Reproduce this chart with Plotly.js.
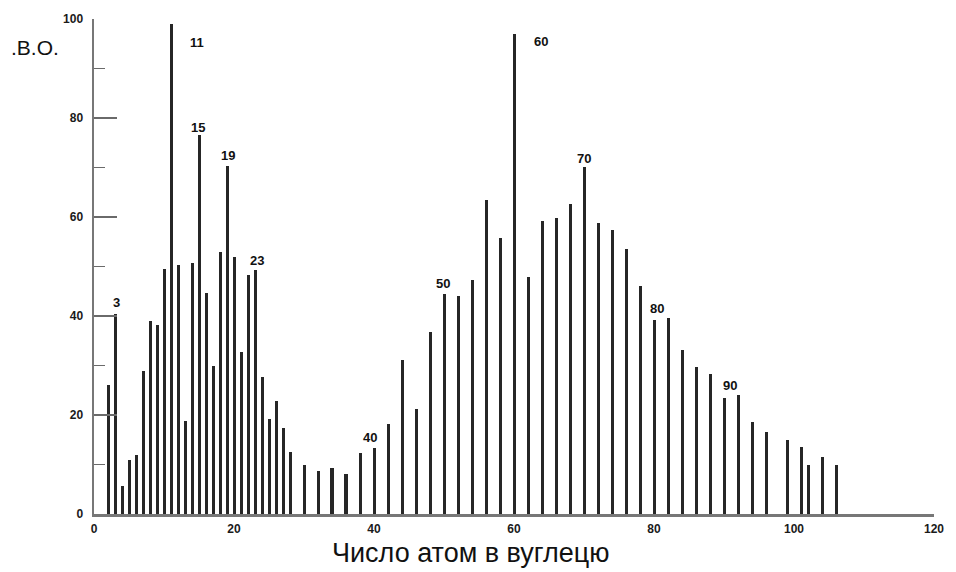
<!DOCTYPE html>
<html>
<head>
<meta charset="utf-8">
<script src="https://cdn.plot.ly/plotly-3.0.1.min.js"></script>
<style>
  html, body { margin: 0; padding: 0; background: #fff; }
  #chart { width: 956px; height: 572px; }
</style>
</head>
<body>
<div id="chart"></div>
<script>
// Carbon number (x) and relative abundance (y)
const carbons = [2, 3, 4, 5, 6, 7, 8, 9, 10, 11, 12, 13, 14, 15, 16, 17, 18, 19, 20, 21, 22, 23, 24, 25, 26, 27, 28,
  30, 32, 34, 36, 38, 40, 42, 44, 46, 48, 50, 52, 54, 56, 58, 60, 62, 64, 66, 68, 70, 72, 74, 76, 78, 80, 82, 84, 86, 88, 90,
  92, 94, 96, 99, 101, 102, 104, 106];
const abundance = [26, 40.5, 5.6, 10.9, 12, 28.9, 38.9, 38.2, 49.5, 99, 50.3, 18.7, 50.7, 76.5, 44.6, 29.9, 52.9, 70.4, 51.9, 32.7, 48.3, 49.3, 27.6, 19.2, 22.8, 17.3, 12.6,
  10, 8.7, 9.2, 8, 12.3, 13.4, 18.2, 31.2, 21.3, 36.7, 44.4, 44.1, 47.2, 63.5, 55.8, 96.9, 47.9, 59.2, 59.8, 62.6, 70.2, 58.8, 57.4, 53.5, 46.1, 39.1, 39.5, 33.1, 29.7, 28.2, 23.5,
  24, 18.5, 16.5, 15, 13.5, 10, 11.5, 10];
const labelledCarbons = [3, 11, 15, 19, 23, 40, 50, 60, 70, 80, 90];
const xTickValues = [0, 20, 40, 60, 80, 100, 120];
const yTickValues = [0, 20, 40, 60, 80, 100];
const xTitle = 'Число атом в вуглецю';
const yTitle = '.В.О.';

// label placement offsets (pixels) relative to the top of the bar
const labelOffsets = {
  3: [1, 11], 11: [26, -19], 15: [-1, 8], 19: [1, 10], 23: [2, 9], 40: [-4, 10],
  50: [-1, 11], 60: [27, -7], 70: [0, 8], 80: [3, 12], 90: [6, 12]
};

const labelFont = { family: 'Liberation Sans, Arial, sans-serif', size: 13, color: '#111', weight: 'bold' };

const annotations = labelledCarbons.map(c => {
  const i = carbons.indexOf(c);
  const off = labelOffsets[c] || [0, 10];
  return {
    x: c, y: abundance[i], xref: 'x', yref: 'y',
    text: String(c), showarrow: false,
    xanchor: 'center', yanchor: 'middle',
    xshift: off[0], yshift: off[1],
    font: labelFont
  };
});

annotations.push({
  xref: 'paper', yref: 'paper', x: 0.449, y: -0.079,
  xanchor: 'center', yanchor: 'middle',
  text: xTitle, showarrow: false,
  font: { family: 'Liberation Sans, Arial, sans-serif', size: 27, color: '#111' }
});
annotations.push({
  xref: 'paper', yref: 'paper', x: -0.07, y: 0.943,
  xanchor: 'center', yanchor: 'middle',
  text: yTitle, showarrow: false,
  font: { family: 'Liberation Sans, Arial, sans-serif', size: 21, color: '#111' }
});

const trace = {
  type: 'bar',
  x: carbons,
  y: abundance,
  width: 0.43,
  marker: { color: '#262626', line: { width: 0 } },
  hoverinfo: 'x+y'
};

const tickFont = { family: 'Liberation Sans, Arial, sans-serif', size: 12, color: '#1a1a1a', weight: 'bold' };

const layout = {
  width: 956, height: 572,
  margin: { l: 94, r: 22, t: 19, b: 58 },
  paper_bgcolor: '#fff', plot_bgcolor: '#fff',
  showlegend: false,
  bargap: 0,
  xaxis: {
    range: [0, 120], tickvals: xTickValues, ticks: '', showgrid: false, zeroline: false,
    showline: true, linecolor: '#777', linewidth: 2.5,
    tickfont: tickFont, ticklabelstandoff: 2
  },
  yaxis: {
    range: [0, 100], tickvals: yTickValues, showgrid: false, zeroline: false,
    showline: true, linecolor: '#777', linewidth: 2.5,
    ticks: 'inside', ticklen: 23, tickwidth: 1.5, tickcolor: '#6a6a6a',
    minor: { dtick: 10, ticks: 'inside', ticklen: 11, tickwidth: 1.5, tickcolor: '#6a6a6a' },
    tickfont: tickFont, ticklabelstandoff: 6
  },
  annotations: annotations
};

Plotly.newPlot('chart', [trace], layout, { displayModeBar: false, staticPlot: true });
</script>
</body>
</html>
